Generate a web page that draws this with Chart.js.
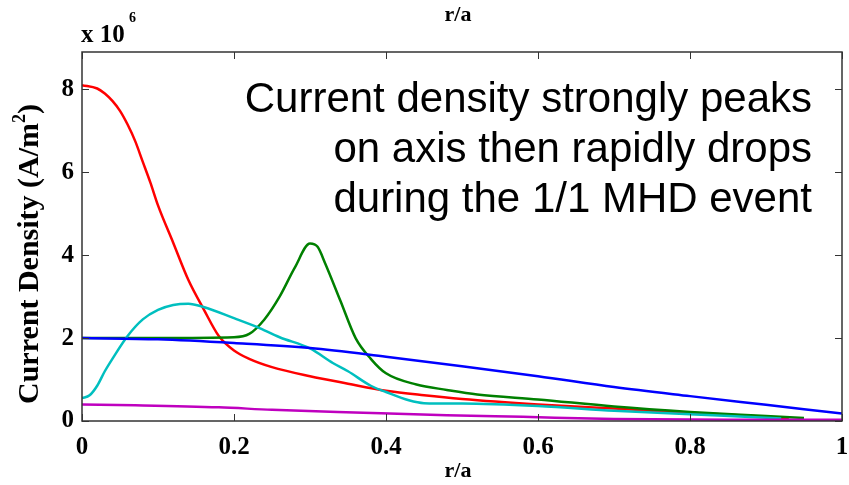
<!DOCTYPE html>
<html>
<head>
<meta charset="utf-8">
<script src="https://cdn.jsdelivr.net/npm/chart.js@4.4.1/dist/chart.umd.min.js"></script>
<style>
  html, body { margin: 0; padding: 0; background: #fff; }
  #wrap { width: 849px; height: 485px; }
</style>
</head>
<body>
<div id="wrap"><canvas id="myChart" width="849" height="485"></canvas></div>
<script>
// Data (r/a and current density in units of 1e6 A/m^2)
const xTicks = [0, 0.2, 0.4, 0.6, 0.8, 1];
const yTicks = [0, 2, 4, 6, 8];

const redX = [0, 0.02, 0.03, 0.04, 0.05, 0.06, 0.07, 0.08, 0.09, 0.1, 0.12, 0.14, 0.16, 0.18, 0.2, 0.22, 0.25, 0.3, 0.35, 0.4, 0.45, 0.5, 0.6, 0.7, 0.8, 0.9, 0.93];
const redY = [8.1, 8.02, 7.9, 7.72, 7.48, 7.15, 6.75, 6.25, 5.75, 5.2, 4.3, 3.4, 2.7, 2.05, 1.7, 1.5, 1.3, 1.08, 0.9, 0.73, 0.62, 0.53, 0.4, 0.3, 0.2, 0.1, 0.06];

const greenX = [0, 0.1, 0.2, 0.22, 0.24, 0.26, 0.28, 0.3, 0.31, 0.32, 0.34, 0.36, 0.38, 0.4, 0.44, 0.48, 0.52, 0.6, 0.7, 0.8, 0.9, 0.95];
const greenY = [2.0, 2.0, 2.02, 2.1, 2.45, 3.0, 3.7, 4.28, 4.2, 3.8, 2.9, 2.0, 1.5, 1.15, 0.88, 0.75, 0.64, 0.52, 0.35, 0.22, 0.12, 0.07];

const cyanX = [0, 0.01, 0.02, 0.03, 0.04, 0.06, 0.08, 0.1, 0.12, 0.14, 0.16, 0.2, 0.23, 0.26, 0.3, 0.33, 0.35, 0.38, 0.4, 0.43, 0.45, 0.5, 0.6, 0.7, 0.8, 0.9, 0.92];
const cyanY = [0.55, 0.62, 0.85, 1.2, 1.5, 2.05, 2.45, 2.68, 2.8, 2.83, 2.75, 2.48, 2.27, 2.02, 1.75, 1.4, 1.2, 0.85, 0.7, 0.5, 0.43, 0.42, 0.36, 0.25, 0.16, 0.08, 0.06];

const blueX = [0, 0.1, 0.2, 0.3, 0.4, 0.5, 0.6, 0.7, 0.8, 0.9, 1.0];
const blueY = [2.0, 1.97, 1.88, 1.76, 1.55, 1.32, 1.08, 0.82, 0.6, 0.39, 0.18];

const magentaX = [0, 0.07, 0.18, 0.25, 0.37, 0.48, 0.58, 0.7, 0.85, 1.0];
const magentaY = [0.4, 0.38, 0.33, 0.27, 0.2, 0.14, 0.1, 0.05, 0.03, 0.03];

const noteLines = [
    'Current density strongly peaks',
    'on axis then rapidly drops',
    'during the 1/1 MHD event'
];

function pairs(xs, ys) {
    return xs.map((x, i) => ({ x: x, y: ys[i] }));
}

function line(label, xs, ys, color) {
    return {
        label: label,
        data: pairs(xs, ys),
        borderColor: color,
        borderWidth: 2.5,
        pointRadius: 0,
        fill: false,
        cubicInterpolationMode: 'monotone'
    };
}

const AXIS = '#333';
const SERIF = '"Liberation Serif", "Times New Roman", serif';

// box, inward ticks and text
const decor = {
    id: 'decor',
    afterDatasetsDraw(chart) {
        const ctx = chart.ctx;
        const a = chart.chartArea;
        const xs = chart.scales.x;
        const ys = chart.scales.y;
        ctx.save();
        ctx.strokeStyle = AXIS;
        ctx.lineWidth = 1.5;
        ctx.strokeRect(a.left, a.top, a.right - a.left, a.bottom - a.top);
        ctx.lineWidth = 1;
        ctx.beginPath();
        xTicks.forEach(v => {
            const px = Math.round(xs.getPixelForValue(v)) + 0.5;
            ctx.moveTo(px, a.bottom); ctx.lineTo(px, a.bottom - 7);
            ctx.moveTo(px, a.top); ctx.lineTo(px, a.top + 7);
        });
        yTicks.forEach(v => {
            const py = Math.round(ys.getPixelForValue(v)) + 0.5;
            ctx.moveTo(a.left, py); ctx.lineTo(a.left + 7, py);
            ctx.moveTo(a.right, py); ctx.lineTo(a.right - 7, py);
        });
        ctx.stroke();

        // annotation
        ctx.fillStyle = '#000';
        ctx.font = '42px "Liberation Sans", Arial, sans-serif';
        ctx.textAlign = 'right';
        ctx.textBaseline = 'alphabetic';
        noteLines.forEach((t, i) => ctx.fillText(t, 812, 112 + i * 50));

        // axis titles
        ctx.font = 'bold 22px ' + SERIF;
        ctx.textAlign = 'center';
        ctx.textBaseline = 'middle';
        ctx.fillText('r/a', 458, 15);
        ctx.fillText('r/a', 458, 471);

        ctx.textAlign = 'left';
        ctx.textBaseline = 'alphabetic';
        ctx.font = 'bold 25px ' + SERIF;
        ctx.fillText('x 10', 81, 42);
        ctx.font = 'bold 14px ' + SERIF;
        ctx.fillText('6', 129, 22);

        // y title, rotated
        ctx.translate(30, 254);
        ctx.rotate(-Math.PI / 2);
        const big = 'bold 30px ' + SERIF;
        const small = 'bold 18px ' + SERIF;
        ctx.font = big;
        const t1 = 'Current Density (A/m';
        const t3 = ')';
        const w1 = ctx.measureText(t1).width;
        const w3 = ctx.measureText(t3).width;
        ctx.font = small;
        const w2 = ctx.measureText('2').width;
        const x0 = -(w1 + w2 + w3) / 2;
        ctx.textAlign = 'left';
        ctx.textBaseline = 'middle';
        ctx.font = big;
        ctx.fillText(t1, x0, 0);
        ctx.font = small;
        ctx.fillText('2', x0 + w1, -10);
        ctx.font = big;
        ctx.fillText(t3, x0 + w1 + w2, 0);
        ctx.restore();
    }
};

const tickFont = { family: SERIF, weight: 'bold', size: 25 };

const chart = new Chart(document.getElementById('myChart'), {
    type: 'line',
    data: {
        datasets: [
            line('blue', blueX, blueY, '#0000ff'),
            line('magenta', magentaX, magentaY, '#bf00bf'),
            line('cyan', cyanX, cyanY, '#00bfbf'),
            line('green', greenX, greenY, '#008000'),
            line('red', redX, redY, '#ff0000')
        ]
    },
    options: {
        responsive: false,
        animation: false,
        layout: { padding: { left: 0, top: 52, right: 7, bottom: 0 } },
        plugins: {
            legend: { display: false },
            tooltip: { enabled: false }
        },
        scales: {
            x: {
                type: 'linear',
                min: 0,
                max: 1,
                grid: { display: false, drawTicks: false },
                border: { display: false },
                afterBuildTicks: s => { s.ticks = xTicks.map(v => ({ value: v })); },
                afterFit: s => { s.height = 64; s.paddingLeft = 0; s.paddingRight = 0; },
                ticks: {
                    font: tickFont,
                    color: '#000',
                    padding: 12,
                    maxRotation: 0,
                    callback: v => String(v)
                }
            },
            y: {
                min: 0,
                max: 8.9,
                grid: { display: false, drawTicks: false },
                border: { display: false },
                afterBuildTicks: s => { s.ticks = yTicks.map(v => ({ value: v })); },
                afterFit: s => { s.width = 82; s.paddingTop = 0; s.paddingBottom = 0; },
                ticks: {
                    font: tickFont,
                    color: '#000',
                    padding: 8,
                    callback: v => String(v)
                }
            }
        }
    },
    plugins: [decor]
});
</script>
</body>
</html>
